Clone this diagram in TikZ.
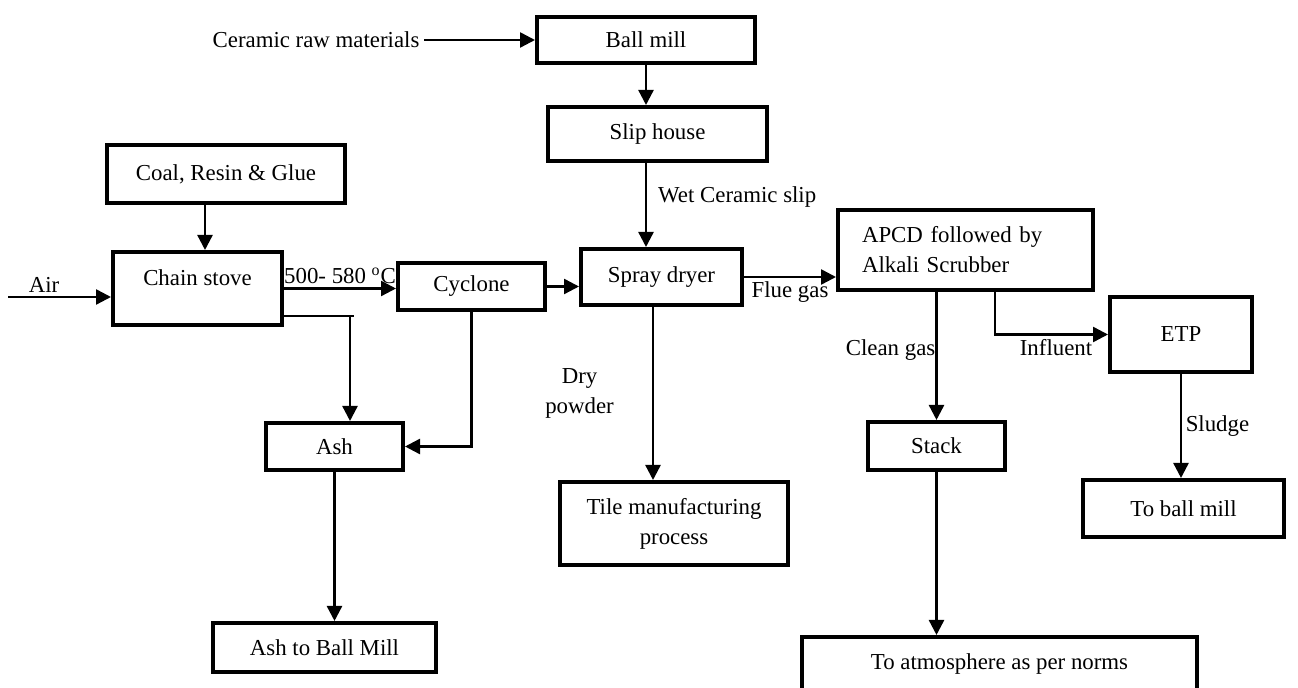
\documentclass[tikz,border=0pt]{standalone}
\usepackage{fontspec}
\setmainfont{Liberation Serif}
\usetikzlibrary{arrows.meta}

\begin{document}
\begin{tikzpicture}[x=0.02cm, y=-0.02cm, font=\fontsize{13}{17}\selectfont]
    \useasboundingbox (0,0) rectangle (1298,688);
    \begin{scope}[every node/.style={draw, line width=2.3pt, inner sep=2pt, align=center}]
                        \node[minimum width=4.36cm, minimum height=0.92cm] (ballmill) at (646,40) {Ball mill};
                        \node[minimum width=4.38cm, minimum height=1.08cm] (sliphouse) at (657.5,134) {Slip house};
                        \node[minimum width=4.76cm, minimum height=1.16cm] (coal) at (226,174) {Coal, Resin \& Glue};
                        \node[minimum width=3.38cm, minimum height=1.46cm, text depth=0.44cm] (chainstove) at (197.5,288.5) {Chain stove};
                        \node[minimum width=2.94cm, minimum height=0.94cm] (cyclone) at (471.5,286.5) {Cyclone};
                        \node[minimum width=3.22cm, minimum height=1.12cm] (spraydryer) at (661.5,277) {Spray dryer};
                        \node[minimum height=1.6cm, text width=4.14cm, inner xsep=0.48cm, align=left] (apcd) at (965.5,250) {APCD followed by\\Alkali Scrubber};
                        \node[minimum width=2.84cm, minimum height=1.5cm] (etp) at (1181,334.5) {ETP};
                        \node[minimum width=2.74cm, minimum height=0.94cm] (ash) at (334.5,446.5) {Ash};
                        \node[minimum width=2.74cm, minimum height=0.96cm] (stack) at (936.5,446) {Stack};
                        \node[minimum width=4.56cm, minimum height=1.66cm] (tile) at (674,523.5) {Tile manufacturing\\process};
                        \node[minimum width=4.02cm, minimum height=1.14cm] (tobm) at (1183.5,508.5) {To ball mill};
                        \node[minimum width=4.46cm, minimum height=0.98cm] (ashmill) at (324.5,647.5) {Ash to Ball Mill};
                        \node[minimum width=7.9cm, minimum height=1.1cm] (atmos) at (999.5,664.5) {To atmosphere as per norms};
                \end{scope}

                \begin{scope}[every node/.style={inner sep=2pt}, every path/.style={line width=1.4pt, ->, >={Triangle[length=0.3cm, width=0.3cm]}}]
                        \node (raw) at (316,40) {Ceramic raw materials};
                        \coordinate (air) at (8,297);
                        \coordinate (ashsplit) at (350,316);
                        \coordinate (coalout) at ([xshift=-0.42cm]coal.south);
                        \coordinate (dryout) at ([xshift=-0.17cm]spraydryer.south);
                        \coordinate (inflout) at ([xshift=0.59cm]apcd.south);

                        \draw (raw) -- (ballmill);
                        \draw (ballmill.south) -- (ballmill.south |- sliphouse.north);
                        \draw (ballmill.south |- sliphouse.south) -- (ballmill.south |- spraydryer.north) node[right=0.15cm, pos=0.41] {Wet Ceramic slip};
                        \draw (coalout) -- (coalout |- chainstove.north);
                        \draw (air) -- (air -| chainstove.west) node[above, pos=0.35] {Air};
                        \draw (chainstove.east) -- (chainstove.east -| cyclone.west) node[midway, above] {500- 580 \textsuperscript{o}C};
                        \draw[-] (chainstove.east |- ashsplit) -- ++(70,0);
                        \draw (ashsplit) -- (ashsplit |- ash.north);
                        \draw (cyclone.south) |- (ash.east);
                        \draw (ash.south) -- (ash.south |- ashmill.north);
                        \draw (cyclone.east) -- (cyclone.east -| spraydryer.west);
                        \draw (dryout) -- (dryout |- tile.north) node[left=0.69cm, midway, align=center] {Dry\\powder};
                        \draw (spraydryer.east) -- (spraydryer.east -| apcd.west) node[midway, below] {Flue gas};
                        \draw (stack.north |- apcd.south) -- (stack.north) node[left, pos=0.45, inner sep=0pt] {Clean gas};
                        \draw (inflout) |- (etp.west) node[below, pos=0.77] {Influent};
                        \draw (etp.south) -- (etp.south |- tobm.north) node[right, midway] {Sludge};
                        \draw (stack.south) -- (stack.south |- atmos.north);
               \end{scope}
\end{tikzpicture}
\end{document}
